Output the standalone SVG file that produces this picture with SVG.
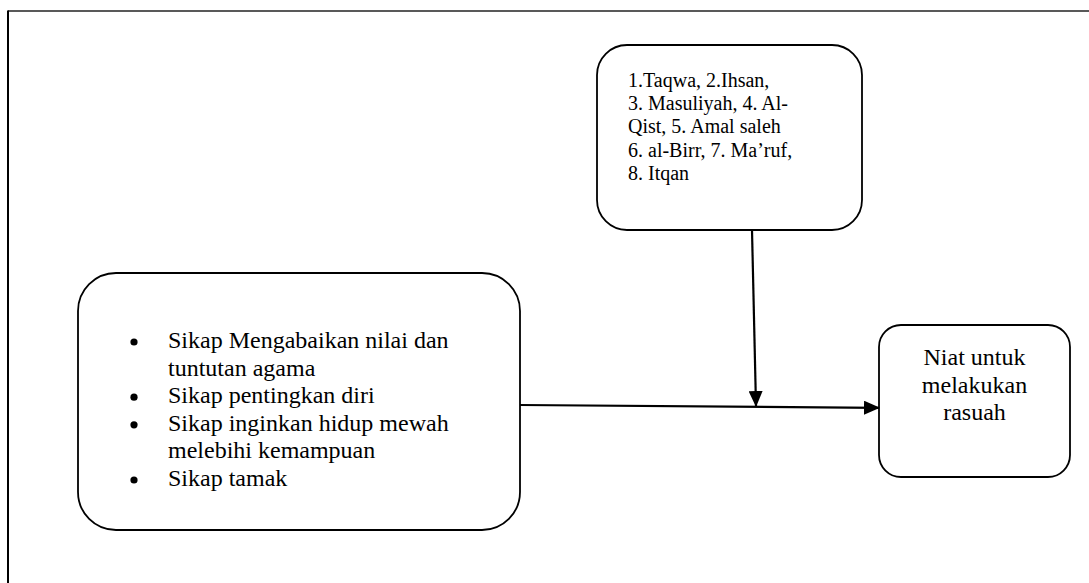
<svg xmlns="http://www.w3.org/2000/svg" width="1089" height="583" viewBox="0 0 1089 583">
<style>
.box{fill:#fff;stroke:#000;stroke-width:1.8}
.t20{font-family:"Liberation Serif","Times New Roman",serif;font-size:20px;fill:#000}
.t24{font-family:"Liberation Serif","Times New Roman",serif;font-size:24px;fill:#000}
.con{fill:none;stroke:#000;stroke-width:2.2}
</style>
<defs>
<marker id="ah" markerWidth="16" markerHeight="14" refX="15" refY="7" orient="auto" markerUnits="userSpaceOnUse">
<path d="M0,0 L16,7 L0,14 Z" fill="#000"/>
</marker>
</defs>
<rect width="1089" height="583" fill="#fff"/>
<g id="frame">
<line x1="8" y1="11" x2="1089" y2="11" stroke="#222" stroke-width="1.5"/>
<line x1="8" y1="10.5" x2="8" y2="583" stroke="#000" stroke-width="2"/>
</g>
<g id="node-values">
<rect class="box" x="597" y="45" width="265" height="185" rx="30" ry="30"/>
<text class="t20" x="628" y="86.7">1.Taqwa, 2.Ihsan,</text>
<text class="t20" x="628" y="110">3. Masuliyah, 4. Al-</text>
<text class="t20" x="628" y="133.3">Qist, 5. Amal saleh</text>
<text class="t20" x="628" y="156.7">6. al-Birr, 7. Ma’ruf,</text>
<text class="t20" x="628" y="180">8. Itqan</text>
</g>
<g id="node-attitudes">
<rect class="box" x="78" y="273" width="442" height="257" rx="38" ry="38"/>
<circle cx="134" cy="342" r="3.6"/>
<circle cx="134" cy="397.2" r="3.6"/>
<circle cx="134" cy="424.8" r="3.6"/>
<circle cx="134" cy="480" r="3.6"/>
<text class="t24" x="168" y="348">Sikap Mengabaikan nilai dan</text>
<text class="t24" x="168" y="375.6">tuntutan agama</text>
<text class="t24" x="168" y="403.2">Sikap pentingkan diri</text>
<text class="t24" x="168" y="430.8">Sikap inginkan hidup mewah</text>
<text class="t24" x="168" y="458.4">melebihi kemampuan</text>
<text class="t24" x="168" y="486">Sikap tamak</text>
</g>
<g id="node-intent">
<rect class="box" x="879" y="325" width="191" height="152" rx="22" ry="22"/>
<text class="t24" x="974.5" y="365" text-anchor="middle">Niat untuk</text>
<text class="t24" x="974.5" y="392.6" text-anchor="middle">melakukan</text>
<text class="t24" x="974.5" y="420.2" text-anchor="middle">rasuah</text>
</g>
<g id="connectors">
<line class="con" x1="520" y1="405" x2="879" y2="407.8" marker-end="url(#ah)"/>
<line class="con" x1="752" y1="230" x2="756" y2="406" marker-end="url(#ah)"/>
</g>
</svg>
